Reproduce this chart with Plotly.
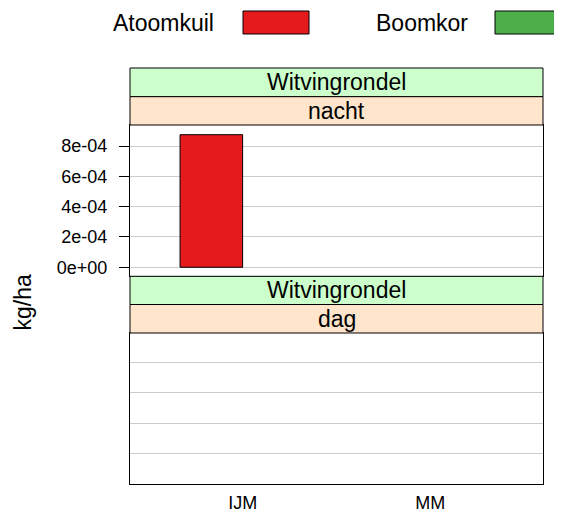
import plotly.graph_objects as go

# ---- data ----
sites = ["IJM", "MM"]
series_names = ["Atoomkuil", "Boomkor"]
series_colors = ["#e41a1c", "#4daf4a"]
species = "Witvingrondel"
periods = ["nacht", "dag"]
values = {
    "nacht": {"Atoomkuil": [8.75e-04, None], "Boomkor": [None, None]},
    "dag": {"Atoomkuil": [None, None], "Boomkor": [None, None]},
}
ytick_vals = [0, 2e-04, 4e-04, 6e-04, 8e-04]
ytick_text = ["0e+00", "2e-04", "4e-04", "6e-04", "8e-04"]
ylab = "kg/ha"

OFF = 8  # page body margin
W, H = 562 - OFF, 513 - OFF
# panel box in screen pixels
X0, X1 = 130, 543
Y0, Y1 = 68, 484
ML, MR, MT, MB = X0 - OFF, W - (X1 - OFF), Y0 - OFF, H - (Y1 - OFF)
PH = H - MT - MB
PW = W - ML - MR


def py(y):  # screen pixel -> paper y
    return (Y1 - y) / PH


def px(x):  # screen pixel -> paper x
    return (x - X0) / PW


FONT = "Liberation Sans, Arial, sans-serif"

fig = go.Figure()

axes = {"nacht": ("x", "y"), "dag": ("x2", "y2")}
for p in periods:
    xa, ya = axes[p]
    for name, col in zip(series_names, series_colors):
        fig.add_trace(go.Bar(
            x=sites, y=values[p][name], name=name, xaxis=xa, yaxis=ya,
            marker=dict(color=col, line=dict(color="black", width=1)),
            showlegend=False, hoverinfo="skip"))

grid = "#cccccc"
common_x = dict(type="category", categoryorder="array", categoryarray=sites,
                range=[-0.6, 1.6], showgrid=False, zeroline=False,
                showline=True, linecolor="black", linewidth=1, mirror=True,
                ticks="", fixedrange=True, automargin=False)

fig.update_layout(
    width=W, height=H,
    margin=dict(l=ML, r=MR, t=MT, b=MB, autoexpand=False),
    paper_bgcolor="white", plot_bgcolor="white",
    barmode="group", bargap=1/3, bargroupgap=0,
    font=dict(family=FONT, color="black", size=18),
    xaxis=dict(domain=[0, 1], anchor="y", showticklabels=False, **common_x),
    xaxis2=dict(domain=[0, 1], anchor="y2", showticklabels=True,
                tickfont=dict(size=18), ticklabelstandoff=2, **common_x),
    yaxis=dict(domain=[py(276.3), py(125)], anchor="x",
               range=[-0.595e-04, 9.39e-04],
               tickvals=ytick_vals, ticktext=ytick_text,
               ticks="outside", ticklen=10, tickwidth=1, tickcolor="black",
               tickfont=dict(size=18), automargin=False, ticklabelstandoff=8,
               showgrid=True, gridcolor=grid, gridwidth=1, zeroline=False,
               showline=True, linecolor="black", linewidth=1, mirror=True),
    yaxis2=dict(domain=[0, py(333)], anchor="x2",
                range=[-2.01e-04, 7.95e-04],
                tickvals=[-2e-04, 0, 2e-04, 4e-04, 6e-04],
                showticklabels=False, ticks="", automargin=False,
                showgrid=True, gridcolor=grid, gridwidth=1, zeroline=False,
                showline=True, linecolor="black", linewidth=1, mirror=True),
)

strip_green = "#ccffcc"
strip_peach = "#ffe5cc"
strips = [
    (68, 96.7, strip_green, species),
    (96.7, 125, strip_peach, periods[0]),
    (276.3, 304.5, strip_green, species),
    (304.5, 333, strip_peach, periods[1]),
]
shapes = []
annotations = []
for top, bot, col, txt in strips:
    shapes.append(dict(type="rect", xref="paper", yref="paper",
                       x0=0, x1=1, y0=py(bot), y1=py(top),
                       fillcolor=col, line=dict(color="black", width=1),
                       layer="above"))
    annotations.append(dict(text=txt, xref="paper", yref="paper",
                            x=0.5, y=py((top + bot) / 2), showarrow=False,
                            xanchor="center", yanchor="middle",
                            font=dict(size=23, family=FONT)))

# legend (drawn manually, lattice style)
leg = [(163, 243, 309, series_names[0], series_colors[0]),
       (422, 495, 560, series_names[1], series_colors[1])]
for tx, r0, r1, name, col in leg:
    annotations.append(dict(text=name, xref="paper", yref="paper",
                            x=px(tx), y=py(22.5), showarrow=False,
                            xanchor="center", yanchor="middle",
                            font=dict(size=23, family=FONT)))
    shapes.append(dict(type="rect", xref="paper", yref="paper",
                       x0=px(r0), x1=px(r1), y0=py(34), y1=py(11),
                       fillcolor=col, line=dict(color="black", width=1)))

annotations.append(dict(text=ylab, xref="paper", yref="paper",
                        x=px(22.5), y=py(303), showarrow=False, textangle=-90,
                        xanchor="center", yanchor="middle",
                        font=dict(size=23, family=FONT)))

fig.update_layout(shapes=shapes, annotations=annotations)
fig.write_html("out.html")
